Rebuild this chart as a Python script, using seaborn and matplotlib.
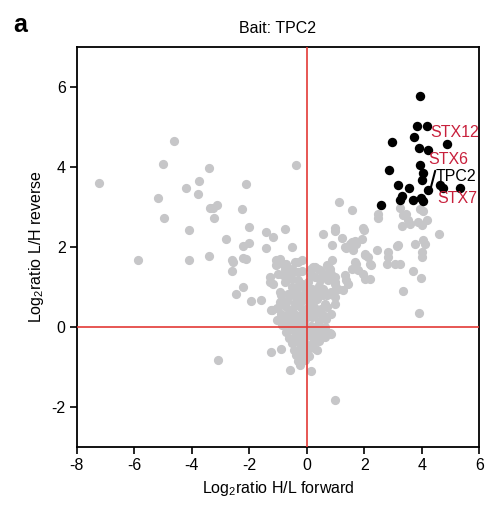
import matplotlib
matplotlib.use("Agg")
import matplotlib.pyplot as plt
import seaborn as sns
import pandas as pd

# Background proteins (log2 H/L forward, log2 L/H reverse)
bg_x = [
    -7.21, -4.62, -5.00, -3.41, -3.76, -2.13, -4.19, -3.79, -5.16, -3.38, -3.26, -3.11,
    -2.24, -4.96, -3.24, -2.00, -4.08, -2.80, -2.22, -2.02, -5.88, -4.08, -3.41, -2.61,
    -2.57, -2.20, -2.12, -2.60, -2.22, -2.45, -1.93, -1.60, -1.21, -3.07, -1.23, -0.88,
    -0.59, 0.15, 0.35, 0.98, 0.86, -0.24,
    -0.36, -1.40, -1.17, -0.77, -1.43, -0.50, 0.55, 1.00, 1.11, 1.56, 2.49, 2.49,
    0.88, 1.21, 1.99, 1.38, 1.56, 1.67, 1.91, 1.61, 2.43, 2.83, 2.83, 3.13, 3.07, 2.02,
    2.14, 2.78, 2.22, 1.67, 1.73, 0.88, 0.74,
    0.98, 1.96, 1.73, 1.50, 1.32, 2.02, 2.20, 1.56, 1.79, 1.96, 2.02, 1.32, 1.38, 1.44,
    0.98, 1.03, 0.92, 0.86, 1.26, 0.98, 0.86,
    3.24, 3.36, 3.47, 3.53, 3.59, 3.94, 4.05, 3.88, 4.00, 4.17, 3.33, 4.61, 3.76, 4.05,
    4.11, 3.18, 4.00, 4.00, 3.26, 3.68, 3.96, 3.36, 3.90, 2.20,
    -0.18, -0.42, -1.06, -0.94, -0.83, -0.60, -0.45, -0.30, -0.15, 0.16, 0.28, 0.45,
    0.74, -1.29, -0.83, -0.66, -0.94, -0.71, -0.30, -1.06, -0.77, -0.53, -1.00, -0.59,
    0.22, 0.39, 0.69, 0.80, 0.57, 0.86, 0.28, 0.45, 0.74, 0.98, 0.98, 1.09, 0.86, 0.57,
    0.69, 0.98, -1.29, -1.17, -0.94, -1.23, -0.30, -0.18, -0.53, -0.77, -0.36, -0.24, -0.59,
    -0.92, -0.68, -0.41, -0.12, 0.13, 0.37, 0.62,
    -1.02, -0.77, -0.52, -0.27, 0.02, 0.24, 0.48, 0.72,
    -0.88, -0.63, -0.38, -0.14, 0.11, 0.33, 0.58,
    -1.04, -0.79, -0.54, -0.31, -0.06, 0.19, 0.42, 0.68,
    -0.86, -0.61, -0.37, -0.12, 0.14, 0.39, 0.63,
    -0.72, -0.47, -0.21, 0.04, 0.29, 0.54, 0.82,
    -0.61, -0.36, -0.11, 0.14, 0.38, 0.63,
    -0.53, -0.29, -0.04, 0.21, 0.44,
    -0.46, -0.19, 0.06, 0.27,
    -0.39, -0.14, 0.09,
    -0.31, -0.06,
    -0.90, -0.65, -0.42, -0.10, 0.12, 0.35, 0.58, -0.05, 0.20, 0.42, -0.30, 0.05, -0.50, 0.15,
]
bg_y = [
    3.60, 4.64, 4.08, 3.98, 3.65, 3.58, 3.48, 3.33, 3.23, 2.98, 2.98, 3.04,
    2.94, 2.72, 2.72, 2.50, 2.42, 2.19, 2.02, 2.10, 1.68, 1.67, 1.77, 1.68,
    1.63, 1.73, 1.70, 1.40, 1.00, 0.83, 0.65, 0.68, 0.42, -0.82, -0.62, -0.54,
    -1.08, -1.10, -0.58, -1.83, -0.17, -0.96,
    4.05, 2.38, 2.25, 2.44, 1.98, 2.00, 2.31, 2.40, 3.13, 2.92, 2.83, 2.73,
    2.04, 2.21, 2.43, 1.98, 2.12, 2.15, 2.19, 1.92, 1.93, 1.88, 1.75, 2.02, 1.57, 1.79,
    1.75, 1.57, 1.54, 1.63, 1.58, 1.68, 1.52,
    2.46, 2.46, 2.08, 2.08, 2.00, 1.83, 1.58, 1.46, 1.42, 1.33, 1.21, 1.29, 1.17, 1.08,
    1.12, 0.96, 0.88, 0.83, 0.92, 0.58, 0.33,
    2.96, 2.79, 2.83, 2.67, 2.58, 2.94, 2.90, 2.63, 2.54, 2.67, 2.52, 2.31, 2.08, 2.17,
    2.08, 2.04, 1.88, 1.75, 1.57, 1.40, 1.23, 0.89, 0.35, 1.21,
    1.68, 1.63, 1.68, 1.65, 1.57, 1.43, 1.40, 1.37, 1.40, 1.46, 1.50, 1.42,
    1.35, 1.25, 1.30, 1.25, 1.71, 1.58, 1.63, 1.54, 1.46, 1.46, 1.33, 1.33,
    1.50, 1.46, 1.54, 1.46, 1.33, 1.33, 1.25, 1.17, 1.17, 1.25, 1.08, 0.96, 0.88, 0.96,
    0.79, 0.75, 1.12, 1.08, 0.88, 0.42, 1.17, 1.08, 1.00, 1.12, 0.88, 0.75, 0.79,
    0.62, 0.66, 0.60, 0.68, 0.63, 0.70, 0.58,
    0.48, 0.52, 0.45, 0.53, 0.47, 0.51, 0.44, 0.49,
    0.33, 0.37, 0.31, 0.38, 0.32, 0.36, 0.30,
    0.18, 0.22, 0.17, 0.23, 0.19, 0.24, 0.16, 0.21,
    0.04, 0.08, 0.02, 0.07, 0.03, 0.06, 0.01,
    -0.12, -0.08, -0.13, -0.09, -0.11, -0.07, -0.14,
    -0.27, -0.23, -0.28, -0.22, -0.26, -0.24,
    -0.41, -0.38, -0.43, -0.39, -0.36,
    -0.57, -0.53, -0.56, -0.52,
    -0.71, -0.68, -0.73,
    -0.86, -0.83,
    0.80, 0.82, 0.78, 0.83, 0.79, 0.84, 0.81, 0.97, 0.95, 1.02, 1.00, 1.12, 1.20, 1.30,
]

# Enriched interactors
hit_x = [3.94, 3.84, 4.19, 3.73, 2.97, 4.89, 3.90, 4.23, 3.94, 2.87, 4.03, 4.00,
         3.16, 3.57, 4.23, 4.63, 4.75, 5.33, 3.33, 3.24, 3.70, 3.96, 4.05, 2.60]
hit_y = [5.76, 5.01, 5.03, 4.75, 4.63, 4.58, 4.48, 4.43, 4.04, 3.92, 3.84, 3.68,
         3.55, 3.47, 3.43, 3.55, 3.48, 3.47, 3.28, 3.18, 3.18, 3.22, 3.15, 3.04]

# Named proteins
label_names = ["STX12", "STX6", "TPC2", "STX7"]
label_x = [4.29, 4.23, 4.49, 4.54]
label_y = [4.86, 4.17, 3.75, 3.21]
label_colors = ["#c8203c", "#c8203c", "#000000", "#c8203c"]

x_ticks = [-8, -6, -4, -2, 0, 2, 4, 6]
y_ticks = [-2, 0, 2, 4, 6]

sns.set_theme(style="ticks")
plt.rcParams["font.family"] = ["Liberation Sans", "DejaVu Sans"]
plt.rcParams["mathtext.fontset"] = "custom"
plt.rcParams["mathtext.rm"] = "Liberation Sans"
plt.rcParams["mathtext.default"] = "regular"
plt.rcParams["text.color"] = "black"
plt.rcParams["axes.labelcolor"] = "black"

fig = plt.figure(figsize=(4.86, 5.07), dpi=100)
ax = fig.add_axes([0.158, 0.118, 0.828, 0.790])

bg = pd.DataFrame({"x": bg_x, "y": bg_y})
hits = pd.DataFrame({"x": hit_x, "y": hit_y})

ax.axhline(0, color="#e33a36", lw=1.2, zorder=3)
ax.axvline(0, color="#e33a36", lw=1.2, zorder=3)

sns.scatterplot(data=bg, x="x", y="y", ax=ax, color="#c6c6c8", s=44,
                linewidth=0, zorder=2)
sns.scatterplot(data=hits, x="x", y="y", ax=ax, color="black", s=46,
                linewidth=0, zorder=4)

for name, lx, ly, c in zip(label_names, label_x, label_y, label_colors):
    ax.text(lx, ly, name, color=c, fontsize=11.5, ha="left", va="center", zorder=5)
ax.plot([4.31, 4.47], [3.46, 3.90], color="black", lw=1.5, zorder=5)

ax.set_xlim(-8, 6)
ax.set_ylim(-3, 7)
ax.set_xticks(x_ticks)
ax.set_yticks(y_ticks)
ax.set_xticklabels([str(t) for t in x_ticks])
ax.set_yticklabels([str(t) for t in y_ticks])
ax.tick_params(axis="both", direction="out", length=5, width=1.2,
               labelsize=11.5, pad=3, colors="black")
for sp in ax.spines.values():
    sp.set_visible(True)
    sp.set_linewidth(1.3)
    sp.set_color("black")

ax.set_xlabel(r"Log$_{2}$ratio H/L forward", fontsize=11.5, labelpad=4)
ax.set_ylabel(r"Log$_{2}$ratio L/H reverse", fontsize=11.5, labelpad=4)
ax.set_title("Bait: TPC2", fontsize=11.5, pad=10)

fig.text(0.027, 0.975, "a", fontsize=18, fontweight="bold", ha="left", va="top")

fig.savefig("out.png", dpi=100)
